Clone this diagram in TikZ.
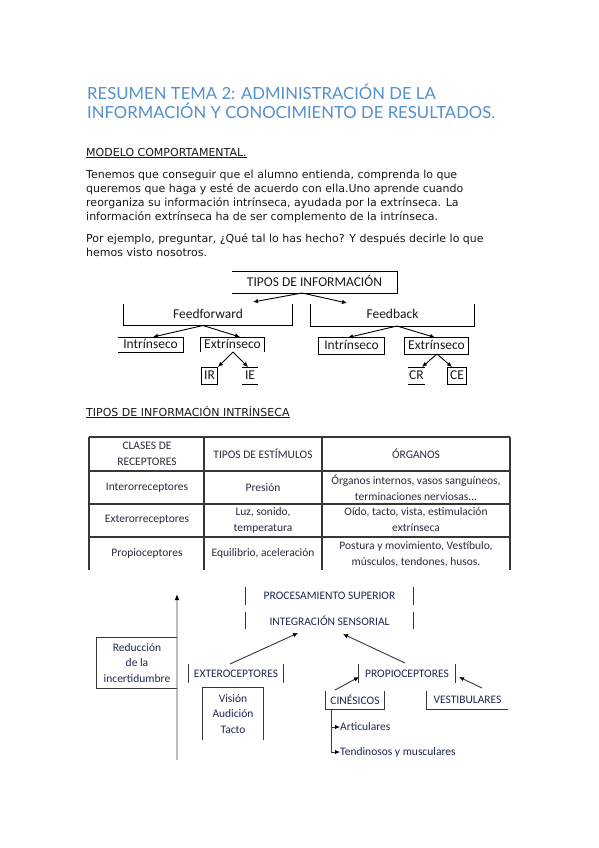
\documentclass[tikz,border=0pt]{standalone}
\usepackage{fontspec}
\setmainfont{DejaVu Sans}
\newfontfamily\calfont{Carlito}
\newfontfamily\titlefont{Lato}
\usetikzlibrary{arrows.meta}
\definecolor{titleblue}{RGB}{84,144,204}
\definecolor{ink}{RGB}{25,25,25}
\definecolor{tabink}{RGB}{40,44,60}
\definecolor{navyink}{RGB}{30,40,80}
\definecolor{rulegray}{RGB}{55,55,55}
\definecolor{axisgray}{RGB}{190,190,190}
\begin{document}
\begin{tikzpicture}[x=1pt,y=-1pt,
  body/.style={anchor=base west, inner sep=0pt, font=\fontsize{11}{14}\selectfont, text=ink},
  ttl/.style={anchor=base west, inner sep=0pt, font=\titlefont\fontsize{16.7}{19}\selectfont, text=titleblue},
  tree/.style={inner sep=0pt, text height=9.5pt, text depth=2.5pt, font=\calfont\fontsize{13.5}{15}\selectfont, text=ink},
  cell/.style={inner sep=0pt, align=center, font=\calfont\fontsize{11.5}{16}\selectfont, text=tabink},
  diag/.style={inner sep=0pt, align=center, font=\calfont\fontsize{11.5}{15.5}\selectfont, text=navyink},
  boxline/.style={draw=black, line width=0.8pt},
  tabline/.style={draw=rulegray, line width=1.1pt},
  dline/.style={draw=rulegray, line width=0.9pt},
  tarrow/.style={draw=black, line width=0.9pt, -{Latex[length=5pt,width=4.5pt]}},
  darrow/.style={draw=rulegray, line width=0.9pt, -{Latex[length=5pt,width=4.5pt,color=black]}}
]
\fill[white] (0,0) rectangle (599,848);
\useasboundingbox (0,0) rectangle (599,848);

% ---------- title & text ----------
\node[ttl] (t1) at (87,100) {RESUMEN TEMA 2: ADMINISTRACIÓN DE LA};
\node[ttl] (t2) at (87,119) {INFORMACIÓN Y CONOCIMIENTO DE RESULTADOS.};
\node[body] (h1) at (86,156) {\underline{MODELO COMPORTAMENTAL.}};
\node[body] (p1) at (86,178) {Tenemos que conseguir que el alumno entienda, comprenda lo que};
\node[body] (p2) at (86,192) {queremos que haga y esté de acuerdo con ella.Uno aprende cuando};
\node[body] (p3) at (86,206) {reorganiza su información intrínseca, ayudada por la extrínseca. La};
\node[body] (p4) at (86,220) {información extrínseca ha de ser complemento de la intrínseca.};
\node[body] (q1) at (86,242) {Por ejemplo, preguntar, ¿Qué tal lo has hecho? Y después decirle lo que};
\node[body] (q2) at (86,256) {hemos visto nosotros.};

% ---------- tree ----------
\node[tree, minimum width=165pt, minimum height=21pt] (tipos) at (314.5,282.5) {TIPOS DE INFORMACIÓN};
\draw[boxline] (tipos.north west) -- (tipos.north east) -- (tipos.south east) -- (tipos.south west);
\node[tree, minimum width=168pt, minimum height=21pt] (ff) at (208,314.5) {Feedforward};
\draw[boxline] (ff.north west) -- (ff.south west) -- (ff.south east) -- (ff.north east);
\node[tree, minimum width=163pt, minimum height=22pt] (fb) at (392.5,315) {Feedback};
\draw[boxline] (fb.north west) -- (fb.south west) -- (fb.south east) -- (fb.north east);
\node[tree, minimum width=65pt, minimum height=14pt] (inl) at (150.5,345) {Intrínseco};
\draw[boxline] (inl.north west) -- (inl.north east) -- (inl.south east) -- (inl.south west);
\node[tree, minimum width=63pt, minimum height=14pt] (exl) at (232.5,345) {Extrínseco};
\draw[boxline] (exl.south west) -- (exl.north west) -- (exl.north east) -- (exl.south east);
\node[tree, minimum width=15pt, minimum height=16pt] (ir) at (209.5,376) {IR};
\draw[boxline] (ir.north west) rectangle (ir.south east);
\node[tree, minimum width=16pt, minimum height=16pt] (ie) at (250,376) {IE};
\draw[boxline] (ie.north west) -- (ie.north east) (ie.south west) -- (ie.south east);
\node[tree, minimum width=65pt, minimum height=16pt] (inr) at (351.5,346) {Intrínseco};
\draw[boxline] (inr.north west) rectangle (inr.south east);
\node[tree, minimum width=63pt, minimum height=16pt] (exr) at (436.5,346) {Extrínseco};
\draw[boxline] (exr.north west) rectangle (exr.south east);
\node[tree, minimum width=17pt, minimum height=16pt] (cr) at (416.5,376) {CR};
\draw[boxline] (cr.north west) -- (cr.north east) (cr.south west) -- (cr.south east);
\node[tree, minimum width=18pt, minimum height=16pt] (ce) at (457,376) {CE};
\draw[boxline] (ce.north west) rectangle (ce.south east);

\coordinate (a0) at (302,293);
\coordinate (a1) at (253,302);
\coordinate (a2) at (347,303);
\draw[tarrow] (a0) -- (a1);
\draw[tarrow] (a0) -- (a2);
\coordinate (b0) at (203,325.5);
\coordinate (b1) at (153,337);
\coordinate (b2) at (240,337);
\draw[tarrow] (b0) -- (b1);
\draw[tarrow] (b0) -- (b2);
\coordinate (c0) at (397,326);
\coordinate (c1) at (348,337.5);
\coordinate (c2) at (435,337.5);
\draw[tarrow] (c0) -- (c1);
\draw[tarrow] (c0) -- (c2);
\coordinate (d0) at (233,352);
\coordinate (d1) at (218,367);
\coordinate (d2) at (248,367);
\draw[tarrow] (d0) -- (d1);
\draw[tarrow] (d0) -- (d2);
\coordinate (e0) at (437,354);
\coordinate (e1) at (422,367);
\coordinate (e2) at (452,367);
\draw[tarrow] (e0) -- (e1);
\draw[tarrow] (e0) -- (e2);

% ---------- table ----------
\node[body] (h2) at (86,416) {\underline{TIPOS DE INFORMACIÓN INTRÍNSECA}};
\draw[tabline] (89,437) -- (510,437);
\draw[tabline] (89,471) -- (510,471);
\draw[tabline] (89,504) -- (510,504);
\draw[tabline] (89,537) -- (510,537);
\draw[tabline] (89,437) -- (89,570);
\draw[tabline] (204,437) -- (204,570);
\draw[tabline] (322,437) -- (322,570);
\draw[tabline] (510,437) -- (510,570);

\node[cell] (c11) at (147,454) {CLASES DE\\RECEPTORES};
\node[cell] (c12) at (263,454) {TIPOS DE ESTÍMULOS};
\node[cell] (c13) at (416,454) {ÓRGANOS};
\node[cell] (c21) at (147,488) {Interorreceptores};
\node[cell] (c22) at (263,488) {Presión};
\node[cell] (c23) at (416,487.5) {Órganos internos, vasos sanguíneos,\\terminaciones nerviosas...};
\node[cell] (c31) at (147,520) {Exterorreceptores};
\node[cell] (c32) at (263,520) {Luz, sonido,\\temperatura};
\node[cell] (c33) at (416,520) {Oído, tacto, vista, estimulación\\extrínseca};
\node[cell] (c41) at (147,553) {Propioceptores};
\node[cell] (c42) at (263,553) {Equilibrio, aceleración};
\node[cell] (c43) at (416,554) {Postura y movimiento, Vestíbulo,\\músculos, tendones, husos.};

% ---------- bottom diagram ----------
\coordinate (axb) at (177,760);
\coordinate (axt) at (177,594);
\draw[draw=axisgray, line width=2pt, -{Latex[length=6pt,width=5pt,color=black]}] (axb) -- (axt);

\node[diag, minimum width=80pt, minimum height=50pt] (red) at (137,663) {Reducción\\de la\\incertidumbre};
\draw[dline] (red.north east) -- (red.north west) -- (red.south west) -- (red.south east);

\node[diag, minimum width=167pt, minimum height=18pt] (proc) at (329.5,596) {PROCESAMIENTO SUPERIOR};
\draw[dline] (proc.north west) -- (proc.south west) (proc.north east) -- (proc.south east);
\node[diag, minimum width=167pt, minimum height=17pt] (integ) at (329.5,620.5) {INTEGRACIÓN SENSORIAL};
\draw[dline] (integ.north west) -- (integ.south west) (integ.north east) -- (integ.south east);

\node[diag, minimum width=94pt, minimum height=19pt] (exte) at (236,673.5) {EXTEROCEPTORES};
\draw[dline] (exte.north west) -- (exte.south west) (exte.north east) -- (exte.south east);
\node[diag, minimum width=60pt, minimum height=52pt] (vis) at (233,714) {Visión\\Audición\\Tacto};
\draw[dline] (vis.south west) -- (vis.north west) -- (vis.north east) -- (vis.south east);

\node[diag, minimum width=96pt, minimum height=19pt] (prop) at (407,673.5) {PROPIOCEPTORES};
\draw[dline] (prop.north west) -- (prop.south west) (prop.north east) -- (prop.south east);
\node[diag, minimum width=58pt, minimum height=18pt] (cine) at (355,700) {CINÉSICOS};
\draw[dline] (cine.north west) -- (cine.south west) -- (cine.south east) -- (cine.north east);
\node[diag, minimum width=81pt, minimum height=18pt] (vest) at (467.5,700) {VESTIBULARES};
\draw[dline] (vest.north west) -- (vest.south west) -- (vest.south east);

\node[diag, anchor=west] (art) at (340,727) {Articulares};
\node[diag, anchor=west] (tend) at (340,752) {Tendinosos y musculares};

\coordinate (f0) at (230,664);
\coordinate (f1) at (298,633);
\draw[darrow] (f0) -- (f1);
\coordinate (g0) at (405,663);
\coordinate (g1) at (343,634);
\draw[darrow] (g0) -- (g1);
\coordinate (h0) at (335,690);
\coordinate (h1c) at (359,677);
\draw[darrow] (h0) -- (h1c);
\coordinate (k0) at (482,688);
\coordinate (k1) at (459,677);
\draw[darrow] (k0) -- (k1);

\coordinate (v0) at (331,709);
\coordinate (v1) at (331,727);
\coordinate (v2) at (331,752);
\draw[dline] (v0) -- (v2);
\draw[darrow] (v1) -- (art.west);
\draw[darrow] (v2) -- (tend.west);
\end{tikzpicture}
\end{document}
